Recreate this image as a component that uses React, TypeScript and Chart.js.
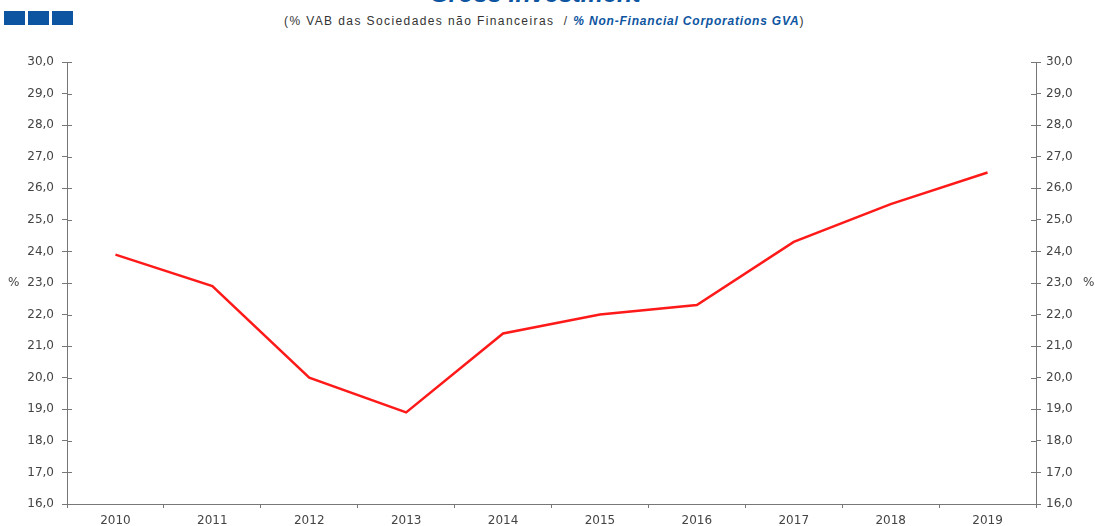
import React, { useEffect, useRef } from "react";
import { Chart, registerables } from "chart.js";

Chart.register(...registerables);

const years = ["2010", "2011", "2012", "2013", "2014", "2015", "2016", "2017", "2018", "2019"];
const investment = [23.9, 22.9, 20.0, 18.9, 21.4, 22.0, 22.3, 24.3, 25.5, 26.5];
const yMin = 16;
const yMax = 30;

const fmt = (v: number | string) => Number(v).toFixed(1).replace(".", ",");

const AXIS_COLOR = "#777777";
const TICK_COLOR = "#444444";
const FONT = "'DejaVu Sans', sans-serif";
const SANS = "'Liberation Sans', Arial, sans-serif";

const innerTicks = {
  id: "innerTicks",
  afterDraw(chart: any) {
    const ctx = chart.ctx;
    const { left, right } = chart.chartArea;
    const ys = chart.scales.y;
    ctx.save();
    ctx.strokeStyle = AXIS_COLOR;
    ctx.lineWidth = 1;
    ctx.beginPath();
    for (let v = yMin; v <= yMax; v += 1) {
      const py = Math.round(ys.getPixelForValue(v)) + 0.5;
      ctx.moveTo(left, py);
      ctx.lineTo(left + 5, py);
      ctx.moveTo(right, py);
      ctx.lineTo(right - 5, py);
    }
    ctx.stroke();
    ctx.fillStyle = TICK_COLOR;
    ctx.font = "12px " + FONT;
    ctx.textBaseline = "middle";
    const my = ys.getPixelForValue(23);
    ctx.textAlign = "left";
    ctx.fillText("%", 8, my);
    ctx.fillText("%", 1083, my);
    ctx.restore();
  },
};

export default function App() {
  const ref = useRef<HTMLCanvasElement>(null);
  useEffect(() => {
    if (!ref.current) return;
    const chart = new Chart(ref.current, {
      type: "line",
      data: {
        labels: years,
        datasets: [
          {
            data: investment,
            borderColor: "#ff1a1a",
            borderWidth: 2.5,
            pointRadius: 0,
            tension: 0,
            fill: false,
            yAxisID: "y",
          },
        ],
      },
      options: {
        responsive: false,
        animation: false,
        devicePixelRatio: 1,
        layout: { padding: { top: 62, left: 0, right: 0, bottom: 0 } },
        plugins: { legend: { display: false }, tooltip: { enabled: false }, title: { display: false } },
        scales: {
          x: {
            offset: true,
            grid: { offset: true, drawOnChartArea: false, drawTicks: true, tickLength: 4, color: AXIS_COLOR },
            border: { color: AXIS_COLOR, width: 1 },
            ticks: { color: TICK_COLOR, font: { family: FONT, size: 12 }, padding: 6, maxRotation: 0, autoSkip: false },
            afterFit: (s: any) => { s.height = 22; },
          },
          y: {
            position: "left",
            min: yMin,
            max: yMax,
            grid: { drawOnChartArea: false, drawTicks: true, tickLength: 5, color: AXIS_COLOR },
            border: { color: AXIS_COLOR, width: 1 },
            ticks: { stepSize: 1, color: TICK_COLOR, font: { family: FONT, size: 12 }, padding: 8, callback: (v: any) => fmt(v) },
            afterFit: (s: any) => { s.width = 67; },
          },
          y2: {
            position: "right",
            min: yMin,
            max: yMax,
            grid: { drawOnChartArea: false, drawTicks: true, tickLength: 5, color: AXIS_COLOR },
            border: { color: AXIS_COLOR, width: 1 },
            ticks: { stepSize: 1, color: TICK_COLOR, font: { family: FONT, size: 12 }, padding: 5, callback: (v: any) => fmt(v) },
            afterFit: (s: any) => { s.width = 59; },
          },
        },
      },
      plugins: [innerTicks],
    });
    return () => chart.destroy();
  }, []);

  return (
    <div style={{ position: "absolute", left: 0, top: 0, width: 1095, height: 526, overflow: "hidden", background: "#fff" }}>
      <div style={{ position: "absolute", left: 4, top: 11, display: "flex", gap: 3 }}>
        {[0, 1, 2].map((i) => (
          <div key={i} style={{ width: 21, height: 14, background: "#0d55a0" }} />
        ))}
      </div>
      <div
        style={{
          position: "absolute",
          left: 0,
          width: 1070,
          top: -22,
          textAlign: "center",
          fontFamily: SANS,
          fontWeight: "bold",
          fontStyle: "italic",
          fontSize: 25,
          lineHeight: "30px",
          color: "#0d55a0",
          whiteSpace: "nowrap",
        }}
      >
        Gross Investment
      </div>
      <div
        style={{
          position: "absolute",
          left: 284,
          top: 13,
          fontFamily: SANS,
          fontSize: 12,
          lineHeight: "16px",
          color: "#333",
          whiteSpace: "nowrap",
          letterSpacing: 1.4,
        }}
      >
        (% VAB das Sociedades não Financeiras&nbsp; /{" "}
        <span style={{ color: "#0d55a0", fontWeight: "bold", fontStyle: "italic", letterSpacing: 0.8 }}>
          % Non-Financial Corporations GVA
        </span>
        )
      </div>
      <canvas ref={ref} width={1095} height={526} style={{ position: "absolute", left: 0, top: 0, display: "block" }} />
    </div>
  );
}
